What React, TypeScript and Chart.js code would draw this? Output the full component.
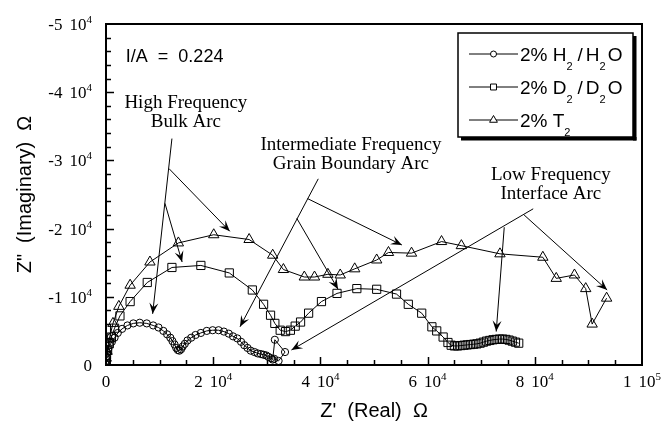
import React, { useEffect, useRef } from 'react';
import { Chart, registerables } from 'chart.js';

Chart.register(...registerables);

// ---- data (ohms) ----
const h2Re = [0, 50, 100, 200, 400, 700, 1100, 1600, 2200, 3000, 4000, 5100, 6300, 7600, 8800, 9800, 10700, 11400, 12000, 12400, 12800, 13100, 13400, 13700, 14000, 14300, 14700, 15200, 15900, 16700, 17700, 18800, 19900, 21000, 22000, 22900, 23700, 24500, 25200, 25800, 26400, 27000, 27700, 28300, 28900, 29400, 29900, 30300, 30800, 31100, 31500, 33400, 32200, 31400];
const h2Im = [-100, -600, -1200, -1800, -2300, -2900, -3400, -4000, -4700, -5300, -5800, -6100, -6200, -6100, -5800, -5500, -5000, -4500, -4000, -3500, -3000, -2500, -2200, -2100, -2300, -2700, -3100, -3600, -4000, -4400, -4700, -5000, -5100, -5100, -4900, -4600, -4200, -3900, -3400, -2900, -2500, -2100, -1900, -1700, -1600, -1500, -1400, -1200, -1000, -800, -3700, -1900, -600, -900];

const d2Re = [0, 50, 100, 300, 600, 1000, 1600, 2600, 4500, 7700, 12300, 17700, 23000, 27300, 29400, 30700, 31500, 32500, 33500, 34400, 35300, 36300, 37800, 40200, 43100, 46800, 50500, 54200, 56400, 58900, 60800, 61700, 62900, 63800, 64400, 65000, 65600, 66200, 66800, 67400, 68000, 68600, 69200, 69800, 70400, 71000, 71600, 72200, 72800, 73400, 74000, 74600, 75200, 75800, 76400, 77000];
const d2Im = [-100, -700, -1400, -2200, -3100, -4100, -5400, -7200, -9300, -12100, -14300, -14600, -13500, -11000, -8900, -7300, -6100, -5100, -4900, -5100, -5700, -6300, -7600, -9300, -10500, -11200, -11100, -10400, -8900, -7600, -5600, -5000, -4100, -3300, -2900, -2800, -2800, -2850, -2900, -2950, -3000, -3050, -3100, -3200, -3350, -3500, -3600, -3700, -3750, -3800, -3800, -3750, -3650, -3500, -3350, -3200];

const t2Re = [0, 50, 200, 600, 1300, 2400, 4500, 8200, 13500, 20100, 26700, 31100, 33100, 37000, 38900, 41400, 43700, 46400, 50500, 52700, 57000, 62600, 66300, 73500, 81500, 84000, 87400, 89500, 90700, 93400];
const t2Im = [-100, -1000, -2000, -3800, -6100, -8600, -11700, -15100, -17900, -19100, -18400, -16100, -14000, -12900, -12900, -13300, -13200, -14100, -15400, -16500, -16400, -18100, -17500, -16300, -15800, -12700, -13200, -11200, -6000, -9800];

const seriesNames = ['2% H2/H2O', '2% D2/D2O', '2% T2'];
// legend label pieces: [text, isSubscript]
const legendParts: [string, boolean][][] = [
  [['2% H', false], ['2', true], ['/', false], ['H', false], ['2', true], ['O', false]],
  [['2% D', false], ['2', true], ['/', false], ['D', false], ['2', true], ['O', false]],
  [['2% T', false], ['2', true]],
];

// tick labels: value -> [mantissa, exponent]
const xTickValues = [0, 20000, 40000, 60000, 80000, 100000];
const xTickLabels: [string, string][] = [['0', ''], ['2', '4'], ['4', '4'], ['6', '4'], ['8', '4'], ['1', '5']];
const yTickValues = [-50000, -40000, -30000, -20000, -10000, 0];
const yTickLabels: [string, string][] = [['-5', '4'], ['-4', '4'], ['-3', '4'], ['-2', '4'], ['-1', '4'], ['0', '']];

// annotations (data units)
const noteText = 'I/A  =  0.224';
const noteAnchor = [3700, -45100];
const arcLabels = [
  { lines: ['High Frequency', 'Bulk Arc'], x: 14900, y: -38400 },
  { lines: ['Intermediate Frequency', 'Grain Boundary Arc'], x: 45700, y: -32200 },
  { lines: ['Low Frequency', 'Interface Arc'], x: 83000, y: -27800 },
];
const arcArrows = [
  [12300, -33200, 8700, -7500],
  [11750, -28800, 23100, -19600],
  [11000, -23700, 14200, -15100],
  [39600, -27300, 25000, -5600],
  [37600, -24400, 55200, -17600],
  [35600, -21500, 43300, -11100],
  [79700, -22900, 34600, -2200],
  [78000, -22000, 93500, -11000],
  [74300, -20200, 72800, -4900],
];

const SERIF = "'Liberation Serif', 'Times New Roman', serif";
const SANS = "'Liberation Sans', Arial, sans-serif";

function drawArrow(ctx: CanvasRenderingContext2D, x0: number, y0: number, x1: number, y1: number) {
  ctx.beginPath();
  ctx.moveTo(x0, y0);
  ctx.lineTo(x1, y1);
  ctx.lineWidth = 1;
  ctx.stroke();
  const ang = Math.atan2(y1 - y0, x1 - x0);
  const L = 11, W = 4.5;
  const c = Math.cos(ang), s = Math.sin(ang);
  const bx = x1 - L * c, by = y1 - L * s;
  const nx = x1 - L * 0.6 * c, ny = y1 - L * 0.6 * s;
  ctx.beginPath();
  ctx.moveTo(x1, y1);
  ctx.lineTo(bx - W * s, by + W * c);
  ctx.lineTo(nx, ny);
  ctx.lineTo(bx + W * s, by - W * c);
  ctx.closePath();
  ctx.fill();
}

function drawExpLabel(ctx: CanvasRenderingContext2D, m: string, e: string, x: number, baseline: number, align: 'center' | 'right') {
  ctx.font = `17px ${SERIF}`;
  const gap = e ? 7 : 0;
  const mw = ctx.measureText(m).width;
  let tenW = 0;
  if (e) tenW = ctx.measureText('10').width;
  ctx.font = `11px ${SERIF}`;
  const ew = e ? ctx.measureText(e).width : 0;
  const total = mw + (e ? gap + tenW + ew : 0);
  const sx = align === 'center' ? x - total / 2 : x - total;
  ctx.textAlign = 'left';
  ctx.textBaseline = 'alphabetic';
  ctx.font = `17px ${SERIF}`;
  ctx.fillText(m, sx, baseline);
  if (e) {
    ctx.fillText('10', sx + mw + gap, baseline);
    ctx.font = `11px ${SERIF}`;
    ctx.fillText(e, sx + mw + gap + tenW, baseline - 7);
  }
}

function drawMarker(ctx: CanvasRenderingContext2D, style: string, x: number, y: number, r: number) {
  ctx.beginPath();
  if (style === 'circle') {
    ctx.arc(x, y, r, 0, Math.PI * 2);
  } else if (style === 'rect') {
    const h = r * Math.SQRT1_2;
    ctx.rect(x - h, y - h, 2 * h, 2 * h);
  } else {
    ctx.moveTo(x, y - r);
    ctx.lineTo(x + r * 0.866, y + r * 0.5);
    ctx.lineTo(x - r * 0.866, y + r * 0.5);
    ctx.closePath();
  }
  ctx.fillStyle = '#fff';
  ctx.fill();
  ctx.stroke();
}

const decorPlugin = {
  id: 'decor',
  afterDraw(chart: any) {
    const { ctx, chartArea: a, scales } = chart;
    const xs = scales.x, ys = scales.y;
    ctx.save();
    ctx.strokeStyle = '#000';
    ctx.fillStyle = '#000';
    // frame
    ctx.lineWidth = 2;
    ctx.strokeRect(a.left, a.top, a.right - a.left, a.bottom - a.top);
    // inward ticks
    ctx.lineWidth = 1.5;
    ctx.beginPath();
    for (let v = 5000; v < 100000; v += 5000) {
      const px = Math.round(xs.getPixelForValue(v)) + 0.5;
      const len = v % 20000 === 0 ? 8 : 5;
      ctx.moveTo(px, a.bottom);
      ctx.lineTo(px, a.bottom - len);
    }
    for (let v = -48000; v < 0; v += 2000) {
      const py = Math.round(ys.getPixelForValue(v)) + 0.5;
      const len = v % 10000 === 0 ? 8 : 5;
      ctx.moveTo(a.left, py);
      ctx.lineTo(a.left + len, py);
    }
    ctx.stroke();
    // tick labels
    xTickValues.forEach((v, i) => {
      const [m, e] = xTickLabels[i];
      drawExpLabel(ctx, m, e, xs.getPixelForValue(v), a.bottom + 22, 'center');
    });
    yTickValues.forEach((v, i) => {
      const [m, e] = yTickLabels[i];
      drawExpLabel(ctx, m, e, a.left - 14, ys.getPixelForValue(v) + 6, 'right');
    });

    // note
    ctx.font = `18px ${SANS}`;
    ctx.textAlign = 'left';
    ctx.textBaseline = 'middle';
    ctx.fillText(noteText, xs.getPixelForValue(noteAnchor[0]), ys.getPixelForValue(noteAnchor[1]));

    // arc labels
    ctx.font = `19px ${SERIF}`;
    ctx.textAlign = 'center';
    ctx.textBaseline = 'middle';
    arcLabels.forEach((lab) => {
      const px = xs.getPixelForValue(lab.x);
      const py = ys.getPixelForValue(lab.y);
      lab.lines.forEach((t, k) => ctx.fillText(t, px, py + k * 19));
    });
    // arrows
    arcArrows.forEach(([x0, y0, x1, y1]) => {
      drawArrow(ctx, xs.getPixelForValue(x0), ys.getPixelForValue(y0), xs.getPixelForValue(x1), ys.getPixelForValue(y1));
    });

    // legend
    const bl = a.right - 184, bt = a.top + 9, bw = 175, bh = 104;
    ctx.fillStyle = '#fff';
    ctx.fillRect(bl, bt, bw, bh);
    ctx.fillStyle = '#000';
    ctx.lineWidth = 1.5;
    ctx.strokeRect(bl, bt, bw, bh);
    ctx.fillRect(bl + bw, bt + 3, 3.5, bh + 0.5);
    ctx.fillRect(bl + 3, bt + bh, bw + 0.5, 3.5);
    const styles = ['circle', 'rect', 'triangle'];
    const mr = [3, 4.2, 4.5];
    legendParts.forEach((parts, i) => {
      const base = bt + 28 + i * 33;
      const ly = base - 7;
      ctx.lineWidth = 1;
      ctx.strokeStyle = '#000';
      ctx.beginPath();
      ctx.moveTo(bl + 11, ly);
      ctx.lineTo(bl + 60, ly);
      ctx.stroke();
      drawMarker(ctx, styles[i], bl + 35.5, ly, mr[i]);
      ctx.fillStyle = '#000';
      let x = bl + 62;
      ctx.textAlign = 'left';
      ctx.textBaseline = 'alphabetic';
      parts.forEach(([t, sub]) => {
        if (sub) {
          ctx.font = `11px ${SANS}`;
          ctx.fillText(t, x, base + 9);
          x += ctx.measureText(t).width + 2;
        } else {
          ctx.font = `19px ${SANS}`;
          const pad = t === '/' ? 3 : 0;
          ctx.fillText(t, x + pad, base);
          x += ctx.measureText(t).width + pad * 2;
        }
      });
    });
    ctx.restore();
  },
};

export default function App() {
  const ref = useRef<HTMLCanvasElement>(null);
  useEffect(() => {
    document.body.style.margin = '0';
    const canvas = ref.current!;
    const mk = (re: number[], im: number[]) => re.map((x, i) => ({ x, y: im[i] }));
    const common = {
      showLine: true,
      borderColor: '#000',
      borderWidth: 1,
      pointBorderColor: '#000',
      pointBackgroundColor: 'rgba(255,255,255,0)',
      pointBorderWidth: 1,
      tension: 0,
    };
    const chart = new Chart(canvas, {
      type: 'scatter',
      data: {
        datasets: [
          { ...common, label: seriesNames[0], data: mk(h2Re, h2Im), pointStyle: 'circle', pointRadius: 3.6 },
          { ...common, label: seriesNames[1], data: mk(d2Re, d2Im), pointStyle: 'rect', pointRadius: 5.8 },
          { ...common, label: seriesNames[2], data: mk(t2Re, t2Im), pointStyle: 'triangle', pointRadius: 6 },
        ],
      } as any,
      options: {
        responsive: false,
        animation: false,
        devicePixelRatio: 1,
        events: [],
        layout: { padding: { left: 0, right: 20, top: 24, bottom: 0 } },
        plugins: { legend: { display: false }, tooltip: { enabled: false } },
        scales: {
          x: {
            type: 'linear',
            position: 'bottom',
            min: 0,
            max: 100000,
            ticks: { display: false, stepSize: 20000 },
            grid: { display: false, drawTicks: false },
            border: { display: false },
            title: {
              display: true,
              text: "Z'  (Real)  Ω",
              color: '#000',
              font: { family: SANS, size: 20 },
              padding: { top: 0, bottom: 5 },
            },
            afterFit: (s: any) => {
              s.height = 63;
              s.paddingLeft = 0;
              s.paddingRight = 0;
            },
          },
          y: {
            type: 'linear',
            position: 'left',
            reverse: true,
            min: -50000,
            max: 0,
            ticks: { display: false, stepSize: 10000 },
            grid: { display: false, drawTicks: false },
            border: { display: false },
            title: {
              display: true,
              text: 'Z"  (Imaginary)  Ω',
              color: '#000',
              font: { family: SANS, size: 20 },
              padding: { top: 13, bottom: 0 },
            },
            afterFit: (s: any) => {
              s.width = 106;
              s.paddingTop = 0;
              s.paddingBottom = 0;
            },
          },
        },
      } as any,
      plugins: [decorPlugin],
    });
    return () => chart.destroy();
  }, []);
  return (
    <div style={{ width: 662, height: 428, background: '#fff' }}>
      <canvas ref={ref} width={662} height={428} style={{ display: 'block' }} />
    </div>
  );
}
